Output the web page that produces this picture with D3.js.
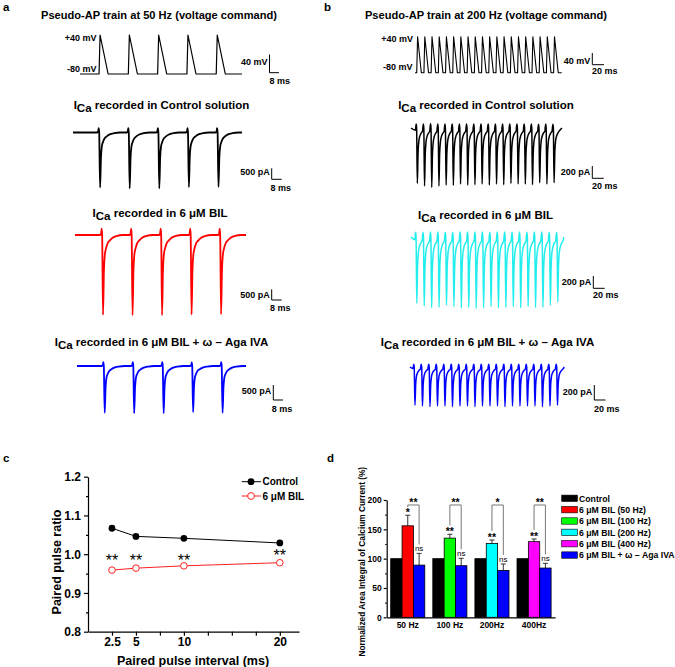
<!DOCTYPE html>
<html><head><meta charset="utf-8">
<script src="https://cdn.jsdelivr.net/npm/d3@7"></script>
<style>body{margin:0;background:#fff} svg{display:block}</style>
</head><body>
<svg id="chart" width="675" height="667"></svg>
<script>
// ================= DATA =================
// Panel a : pseudo-AP train at 50 Hz
const aPulseTimes = [0, 20, 40, 60, 80];                 // ms
const aCtrlAmps   = [2500, 2540, 2540, 2480, 2470];      // pA (peak inward ICa)
const aBilAmps    = [3630, 3640, 3640, 3620, 3600];
const aAgaAmps    = [2130, 2150, 2150, 2100, 2130];
// Panel b : pseudo-AP train at 200 Hz
const bPulseTimes = [0, 5, 10, 15, 20, 25, 30, 35, 40, 45, 50, 55, 60, 65, 70, 75, 80, 85, 90, 95];
const bCtrlAmps   = [852, 893, 913, 893, 878, 882, 862, 878, 873, 862, 878, 862, 873, 852, 862, 862, 873, 842, 862, 842];
const bBilAmps    = [1020, 1060, 1090, 1080, 1050, 1070, 1090, 1080, 1100, 1090, 1070, 1090, 1080, 1070, 1090, 1070, 1090, 1080, 1050, 1000];
const bAgaAmps    = [590, 600, 610, 600, 600, 610, 600, 600, 610, 600, 600, 600, 610, 600, 600, 600, 600, 610, 600, 590];
// voltage command (mV) and pulse timing (ms)
const vHold = -80, vPeak = 40;
const aRise = 0.7, aFall = 5.5, bRise = 0.6, bFall = 2.6;
// normalized ICa transient shape (time rel. to pulse, fraction of peak)
const aShapeT = [-1.5, -0.8, -0.4, -0.1, 0.5, 1.1, 1.7, 2.5, 3.5, 5, 7, 10, 14];
const aShapeV = [0, 0.02, 0.08, 0, -1, -0.45, -0.25, -0.17, -0.11, -0.07, -0.035, -0.012, 0];
const bShapeT = [-0.8, -0.3, 0, 0.5, 1.0, 1.5, 2.2, 3.2, 4.2];
const bShapeV = [-0.04, 0.07, 0, -1, -0.45, -0.25, -0.15, -0.09, -0.05];

// Panel c : paired pulse ratio
const ppIntervals  = [2.5, 5, 10, 20];
const ppControl    = [1.067, 1.046, 1.041, 1.029];
const ppBil        = [0.959, 0.964, 0.970, 0.978];
const ppSigY       = [0.9935, 0.9935, 0.9935, 1.0065];
const ppSig        = ["**", "**", "**", "**"];
const ppXTicks     = [2.5, 5, 7.5, 10, 12.5, 15, 17.5, 20];
const ppXLabels    = [2.5, 5, 10, 20];
const ppYTicks     = [0.8, 0.9, 1.0, 1.1, 1.2];
const ppYMinor     = [0.85, 0.95, 1.05, 1.15];
const ppSeries     = ["Control", "6 μM BIL"];

// Panel d : normalized area integral
const freqCats = ["50 Hz", "100 Hz", "200Hz", "400Hz"];
const ctrlArea = [100, 100, 100, 100];
const bilArea  = [156, 135, 126, 129];
const bilErr   = [18, 6.5, 5.8, 4.5];
const agaArea  = [89, 88, 80, 84];
const agaErr   = [20, 12.6, 10.9, 8];
const bilSig   = ["*", "**", "**", "**"];
const agaSig   = ["ns", "ns", "ns", "ns"];
const pairSig  = ["**", "**", "*", "**"];
const pairY    = 191.5;
const dYTicks  = [0, 50, 100, 150, 200];
const dYMinor  = [25, 75, 125, 175];
const legendLabels = ["Control", "6 μM BIL (50 Hz)", "6 μM BIL (100 Hz)", "6 μM BIL (200 Hz)", "6 μM BIL (400 Hz)", "6 μM BIL + ω – Aga IVA"];

// ================= STYLE =================
const FONT = "'Liberation Sans', Arial, Helvetica, sans-serif";
const bilColors = ["#ff0000", "#00ff00", "#00ffff", "#ff00ff"];
const legendColors = ["#000000", "#ff0000", "#00ff00", "#00ffff", "#ff00ff", "#0000ff"];

const svg = d3.select("#chart");

function addText(x, y, str, size, anchor = "start", weight = "bold", fill = "#000") {
  return svg.append("text").attr("x", x).attr("y", y)
    .attr("font-family", FONT).attr("font-size", size).attr("font-weight", weight)
    .attr("text-anchor", anchor).attr("fill", fill).text(str);
}
function icaTitle(cx, baseline, rest) {
  const t = svg.append("text").attr("x", cx).attr("y", baseline).attr("text-anchor", "middle")
    .attr("font-family", FONT).attr("font-size", 11.5).attr("font-weight", "bold");
  t.append("tspan").text("I");
  t.append("tspan").attr("dy", 3.5).text("Ca");
  t.append("tspan").attr("dy", -3.5).text(" " + rest);
}
function scaleBar(xb, yTop, yBot, xEnd, vLabel, vBase, hLabel, hX, hBase) {
  svg.append("path").attr("d", `M${xb},${yTop}V${yBot}H${xEnd}`)
    .attr("fill", "none").attr("stroke", "#000").attr("stroke-width", 1);
  addText(xb - 2, vBase, vLabel, 9, "end");
  addText(hX, hBase, hLabel, 9, "start");
}
function buildVoltage(times, rise, fall, t0, t1) {
  const pts = [[t0, vHold]];
  times.forEach(t => { pts.push([t, vHold], [t + rise, vPeak], [t + rise + fall, vHold]); });
  pts.push([t1, vHold]);
  return pts;
}
function buildCurrent(times, amps, shT, shV, t0, t1) {
  const pts = [[t0, 0]];
  times.forEach((t, i) => shT.forEach((s, k) => pts.push([t + s, amps[i] * shV[k]])));
  pts.push([t1, 0]);
  return pts;
}
function drawTrace(pts, xDom, xRng, yDom, yRng, color, sw, curve) {
  const x = d3.scaleLinear().domain(xDom).range(xRng);
  const y = d3.scaleLinear().domain(yDom).range(yRng);
  const line = d3.line().x(d => x(d[0])).y(d => y(d[1])).curve(curve);
  svg.append("path").datum(pts).attr("d", line).attr("fill", "none")
    .attr("stroke", color).attr("stroke-width", sw).attr("stroke-linejoin", "round");
}

// ================= PANEL LABELS =================
addText(3, 11, "a", 11.5);
addText(324, 11, "b", 11.5);
addText(3, 462, "c", 11.5);
addText(327, 462, "d", 11.5);

// ================= PANEL a =================
addText(159, 19, "Pseudo-AP train at 50 Hz (voltage command)", 11.1, "middle");
addText(96.5, 40.5, "+40 mV", 9, "end");
addText(96.5, 71.5, "-80 mV", 9, "end");
drawTrace(buildVoltage(aPulseTimes, aRise, aFall, -13, 97.6), [-13, 97.6], [80, 242], [-80, 40], [74, 35], "#000", 1.2, d3.curveLinear);
scaleBar(269.5, 54.5, 72.7, 279, "40 mV", 64.5, "8 ms", 269.5, 83.5);

icaTitle(161.5, 108.5, "recorded in Control solution");
drawTrace(buildCurrent(aPulseTimes, aCtrlAmps, aShapeT, aShapeV, -17.8, 96.4), [-17.8, 96.4], [73, 242], [-2600, 0], [132.5 + 57.2, 132.5], "#000", 1.8, d3.curveMonotoneX);
scaleBar(271.7, 168.3, 179.3, 281.7, "500 pA", 175, "8 ms", 270.5, 190.5);

icaTitle(160, 216.5, "recorded in 6 μM BIL");
drawTrace(buildCurrent(aPulseTimes, aBilAmps, aShapeT, aShapeV, -18.5, 97.4), [-18.5, 97.4], [75, 246], [-3700, 0], [235 + 81.4, 235], "#ff0000", 1.8, d3.curveMonotoneX);
scaleBar(271.7, 289.3, 300, 281.7, "500 pA", 297.5, "8 ms", 270, 310.8);

icaTitle(161.5, 345.5, "recorded in 6 μM BIL + ω – Aga IVA");
drawTrace(buildCurrent(aPulseTimes, aAgaAmps, aShapeT, aShapeV, -18.3, 96.4), [-18.3, 96.4], [77, 246], [-2200, 0], [366 + 48.4, 366], "#0000ff", 1.8, d3.curveMonotoneX);
scaleBar(273.3, 385, 400, 283, "500 pA", 393.5, "8 ms", 271.7, 411.8);

// ================= PANEL b =================
addText(486, 19, "Pseudo-AP train at 200 Hz (voltage command)", 11.1, "middle");
addText(413, 41.5, "+40 mV", 9, "end");
addText(412.5, 70, "-80 mV", 9, "end");
drawTrace(buildVoltage(bPulseTimes, bRise, bFall, -1.2, 100.6), [-1.2, 100.6], [415, 561.7], [-80, 40], [72.7, 36.7], "#000", 1.1, d3.curveLinear);
scaleBar(592.3, 53, 64.7, 604, "40 mV", 63.5, "20 ms", 592, 74.2);

icaTitle(486, 108.5, "recorded in Control solution");
drawTrace(buildCurrent(bPulseTimes, bCtrlAmps, bShapeT, bShapeV, -3.9, 101), [-3.9, 101], [411, 562], [-1000, 0], [193, 128], "#000", 1.5, d3.curveMonotoneX);
scaleBar(592.3, 166, 178.3, 603.7, "200 pA", 175.2, "20 ms", 592, 189.2);

icaTitle(485.5, 218.5, "recorded in 6 μM BIL");
drawTrace(buildCurrent(bPulseTimes, bBilAmps, bShapeT, bShapeV, -3.4, 99.5), [-3.4, 99.5], [411, 563.7], [-1100, 0], [237 + 71.5, 237], "#22eeee", 1.5, d3.curveMonotoneX);
scaleBar(593.3, 276, 288.3, 604.7, "200 pA", 284.5, "20 ms", 593, 297.8);

icaTitle(487.5, 345.5, "recorded in 6 μM BIL + ω – Aga IVA");
drawTrace(buildCurrent(bPulseTimes, bAgaAmps, bShapeT, bShapeV, -2.8, 100), [-2.8, 100], [410, 564.2], [-600, 0], [367 + 39, 367], "#0000ff", 1.5, d3.curveMonotoneX);
scaleBar(594.3, 385, 400, 605.5, "200 pA", 394.5, "20 ms", 594, 411.5);

// ================= PANEL c =================
const cX = d3.scaleLinear().domain([0, 22]).range([88, 299]);
const cY = d3.scaleLinear().domain([0.8, 1.2]).range([631.7, 476.7]);
const gc = svg.append("g");
const cxAxis = gc.append("g").attr("transform", `translate(0,${cY(0.8)})`)
  .call(d3.axisBottom(cX).tickValues(ppXTicks).tickSize(4).tickSizeOuter(0).tickPadding(2)
    .tickFormat(d => ppXLabels.includes(d) ? String(d) : ""));
const cyAxis = gc.append("g").attr("transform", `translate(${cX(0)},0)`)
  .call(d3.axisLeft(cY).tickValues(ppYTicks).tickSize(4).tickSizeOuter(0).tickPadding(3).tickFormat(d3.format(".1f")));
gc.append("g").attr("transform", `translate(${cX(0)},0)`)
  .call(d3.axisLeft(cY).tickValues(ppYMinor).tickSize(2).tickSizeOuter(0).tickFormat(""))
  .select(".domain").remove();
gc.selectAll(".tick text").attr("font-family", FONT).attr("font-size", 12).attr("font-weight", "bold").attr("fill", "#000");
gc.selectAll("path.domain, .tick line").attr("stroke", "#000").attr("stroke-width", 1.2);
cyAxis.selectAll(".tick text").attr("dy", "0.34em");

const lineC = d3.line().x((d, i) => cX(ppIntervals[i])).y(d => cY(d));
gc.append("path").datum(ppControl).attr("d", lineC).attr("fill", "none").attr("stroke", "#000").attr("stroke-width", 1);
gc.append("path").datum(ppBil).attr("d", lineC).attr("fill", "none").attr("stroke", "#ff2020").attr("stroke-width", 1);
gc.selectAll("circle.ctrl").data(ppControl).join("circle").attr("class", "ctrl")
  .attr("cx", (d, i) => cX(ppIntervals[i])).attr("cy", d => cY(d)).attr("r", 3.4).attr("fill", "#000");
gc.selectAll("circle.bil").data(ppBil).join("circle").attr("class", "bil")
  .attr("cx", (d, i) => cX(ppIntervals[i])).attr("cy", d => cY(d)).attr("r", 3.3)
  .attr("fill", "#fff").attr("stroke", "#ff2020").attr("stroke-width", 1);
gc.selectAll("text.sig").data(ppSig).join("text").attr("class", "sig")
  .attr("x", (d, i) => cX(ppIntervals[i])).attr("y", (d, i) => cY(ppSigY[i]) + 9.5)
  .attr("text-anchor", "middle").attr("font-family", FONT).attr("font-size", 16).attr("fill", "#000").text(d => d);
// legend c
[0, 1].forEach(i => {
  const ly = 481.7 + i * 14.3;
  gc.append("line").attr("x1", 241.7).attr("x2", 261).attr("y1", ly).attr("y2", ly)
    .attr("stroke", i ? "#ff2020" : "#000").attr("stroke-width", 1);
  gc.append("circle").attr("cx", 251).attr("cy", ly).attr("r", 3.4)
    .attr("fill", i ? "#fff" : "#000").attr("stroke", i ? "#ff2020" : "none");
  gc.append("text").attr("x", 262.5).attr("y", ly + 3.6).attr("font-family", FONT).attr("font-size", 10)
    .attr("font-weight", "bold").text(ppSeries[i]);
});
gc.append("text").attr("transform", "translate(60.5,562) rotate(-90)").attr("text-anchor", "middle")
  .attr("font-family", FONT).attr("font-size", 12.5).attr("font-weight", "bold").text("Paired pulse ratio");
gc.append("text").attr("x", 193).attr("y", 664.5).attr("text-anchor", "middle")
  .attr("font-family", FONT).attr("font-size", 12.5).attr("font-weight", "bold").text("Paired pulse interval (ms)");

// ================= PANEL d =================
const dX = d3.scaleBand().domain(freqCats).range([386.7, 555.1]).paddingInner(0.19).paddingOuter(0.095);
const dSub = d3.scaleBand().domain(["ctrl", "bil", "aga"]).range([0, dX.bandwidth()]);
const dY = d3.scaleLinear().domain([0, 200]).range([617.3, 500]);
const gd = svg.append("g");
const dxAxis = gd.append("g").attr("transform", `translate(0,${dY(0)})`)
  .call(d3.axisBottom(dX).tickSize(0).tickSizeOuter(0).tickPadding(5));
const dyAxis = gd.append("g").attr("transform", `translate(386.7,0)`)
  .call(d3.axisLeft(dY).tickValues(dYTicks).tickSize(3).tickSizeOuter(0).tickPadding(2));
gd.append("g").attr("transform", `translate(386.7,0)`)
  .call(d3.axisLeft(dY).tickValues(dYMinor).tickSize(1.5).tickSizeOuter(0).tickFormat(""))
  .select(".domain").remove();
gd.selectAll(".tick text").attr("font-family", FONT).attr("font-size", 8.5).attr("font-weight", "bold").attr("fill", "#000");
gd.selectAll("path.domain, .tick line").attr("stroke", "#000").attr("stroke-width", 1.2);
dyAxis.selectAll(".tick text").attr("dy", "0.34em");

const barsData = [];
freqCats.forEach((c, i) => {
  barsData.push({ c, k: "ctrl", v: ctrlArea[i], fill: "#000", err: 0 });
  barsData.push({ c, k: "bil", v: bilArea[i], fill: bilColors[i], err: bilErr[i] });
  barsData.push({ c, k: "aga", v: agaArea[i], fill: "#0000ff", err: agaErr[i] });
});
const bx = d => dX(d.c) + dSub(d.k);
const bw = dSub.bandwidth();
gd.selectAll("line.err").data(barsData.filter(d => d.err > 0)).join("line").attr("class", "err")
  .attr("x1", d => bx(d) + bw / 2).attr("x2", d => bx(d) + bw / 2)
  .attr("y1", d => dY(d.v)).attr("y2", d => dY(d.v + d.err)).attr("stroke", "#333").attr("stroke-width", 1);
gd.selectAll("line.cap").data(barsData.filter(d => d.err > 0)).join("line").attr("class", "cap")
  .attr("x1", d => bx(d) + bw / 2 - 2.5).attr("x2", d => bx(d) + bw / 2 + 2.5)
  .attr("y1", d => dY(d.v + d.err)).attr("y2", d => dY(d.v + d.err)).attr("stroke", "#333").attr("stroke-width", 1);
gd.selectAll("rect.bar").data(barsData).join("rect").attr("class", "bar")
  .attr("x", bx).attr("y", d => dY(d.v)).attr("width", bw).attr("height", d => dY(0) - dY(d.v))
  .attr("fill", d => d.fill).attr("stroke", "#000").attr("stroke-width", 0.8);

freqCats.forEach((c, i) => {
  const xb = dX(c) + dSub("bil") + bw / 2, xa = dX(c) + dSub("aga") + bw / 2;
  const yb = dY(bilArea[i] + bilErr[i]) - 5, ya = dY(agaArea[i] + agaErr[i]) - 5;
  gd.append("text").attr("x", xb).attr("y", yb + 6).attr("text-anchor", "middle")
    .attr("font-family", FONT).attr("font-size", 10.5).attr("font-weight", "bold").text(bilSig[i]);
  gd.append("text").attr("x", xa).attr("y", ya + 3).attr("text-anchor", "middle")
    .attr("font-family", FONT).attr("font-size", 8).text(agaSig[i]);
  const yp = dY(pairY);
  gd.append("path").attr("d", `M${xb},${Math.max(yb - 4, yp + 2)}V${yp}H${xa}V${ya - 4}`)
    .attr("fill", "none").attr("stroke", "#777").attr("stroke-width", 1);
  gd.append("text").attr("x", (xb + xa) / 2).attr("y", yp + 1.5).attr("text-anchor", "middle")
    .attr("font-family", FONT).attr("font-size", 10.5).attr("font-weight", "bold").text(pairSig[i]);
});
gd.append("text").attr("transform", "translate(365,561.7) rotate(-90)").attr("text-anchor", "middle")
  .attr("font-family", FONT).attr("font-size", 8.3).attr("font-weight", "bold")
  .text("Normalized Area Integral of Calcium Current (%)");
legendLabels.forEach((l, i) => {
  const ly = 498.3 + i * 11.35;
  gd.append("rect").attr("x", 561.7).attr("y", ly - 3.2).attr("width", 15.7).attr("height", 6.4)
    .attr("fill", legendColors[i]).attr("stroke", "#000").attr("stroke-width", 0.6);
  gd.append("text").attr("x", 579).attr("y", ly + 3.2).attr("font-family", FONT).attr("font-size", 8.7)
    .attr("font-weight", "bold").text(l);
});
</script>
</body></html>
